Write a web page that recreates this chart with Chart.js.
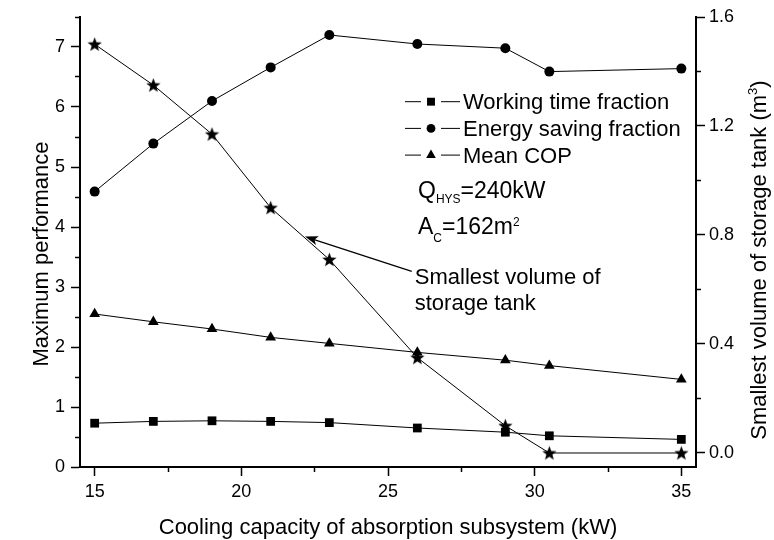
<!DOCTYPE html>
<html>
<head>
<meta charset="utf-8">
<script src="https://cdn.jsdelivr.net/npm/chart.js@4/dist/chart.umd.min.js"></script>
<style>
  html, body { margin: 0; padding: 0; background: #fff; }
</style>
</head>
<body>
<canvas id="perf" width="774" height="540"></canvas>
<script>
// Data
const capacity = [15, 17, 19, 21, 23, 26, 29, 30.5, 35];
const workingTime = [0.73, 0.76, 0.77, 0.76, 0.74, 0.65, 0.58, 0.52, 0.46];
const energySaving = [4.59, 5.39, 6.10, 6.66, 7.20, 7.05, 6.98, 6.59, 6.64];
const meanCOP = [2.55, 2.42, 2.30, 2.16, 2.06, 1.91, 1.78, 1.69, 1.46];
const tankVolume = [1.50, 1.35, 1.17, 0.90, 0.71, 0.35, 0.10, 0.0, 0.0];

const seriesNames = ['Working time fraction', 'Energy saving fraction', 'Mean COP'];

const FONT = "'Liberation Sans', Arial, sans-serif";
Chart.defaults.font.family = FONT;
Chart.defaults.color = '#000';

// five-point star used as marker
function starImage(size) {
  const c = document.createElement('canvas');
  c.width = c.height = size;
  const g = c.getContext('2d');
  const ro = size / 2, ri = ro * 0.42;
  g.beginPath();
  for (let i = 0; i < 10; i++) {
    const r = i % 2 ? ri : ro;
    const a = -Math.PI / 2 + i * Math.PI / 5;
    g.lineTo(ro + r * Math.cos(a), ro + 0.6 + r * Math.sin(a));
  }
  g.closePath();
  g.fillStyle = '#000';
  g.fill();
  return c;
}
const star = starImage(15);

const points = ys => capacity.map((x, i) => ({x: x, y: ys[i]}));
const styles = [
  {pointStyle: 'rect', radius: 6.2},
  {pointStyle: 'circle', radius: 5},
  {pointStyle: 'triangle', radius: 6.2}
];

function series(label, ys, st, axis) {
  return {
    label: label,
    data: points(ys),
    yAxisID: axis,
    borderColor: '#000',
    backgroundColor: '#000',
    borderWidth: 1,
    pointStyle: st.pointStyle,
    pointRadius: st.radius,
    pointBorderWidth: 0,
    tension: 0
  };
}

// minor ticks: short dash starting at the axis line
// (left axis ticks are stroked from the outside in, so skip the outer part)
const minorDash = [4, 30];
const minorDashLeft = [0, 4, 10, 30];

// text with a lowered / raised small part, e.g. Q_HYS
function richText(ctx, parts, x, y) {
  for (const p of parts) {
    ctx.font = p.size + 'px ' + FONT;
    ctx.fillText(p.t, x, y + (p.dy || 0));
    x += ctx.measureText(p.t).width;
  }
}

// legend, notes, arrow and axis titles
const annotations = {
  id: 'annotations',
  afterDraw(chart) {
    const ctx = chart.ctx;
    const a = chart.chartArea;
    const x = chart.scales.x, y = chart.scales.y;
    ctx.save();
    ctx.fillStyle = '#000';
    ctx.strokeStyle = '#000';
    ctx.textBaseline = 'alphabetic';

    // legend
    ctx.lineWidth = 1;
    ctx.font = '22px ' + FONT;
    ctx.textAlign = 'left';
    for (let i = 0; i < 3; i++) {
      const cy = 101.7 + i * 26.7;
      ctx.beginPath();
      ctx.moveTo(405, cy); ctx.lineTo(421, cy);
      ctx.moveTo(441, cy); ctx.lineTo(460, cy);
      ctx.stroke();
      Chart.helpers.drawPoint(ctx, {pointStyle: styles[i].pointStyle, radius: styles[i].radius - 0.6, rotation: 0, borderWidth: 0}, 431, cy);
      ctx.fillText(seriesNames[i], 463, cy + 7.5);
    }

    // Q_HYS=240kW and A_C=162m^2
    richText(ctx, [{t: 'Q', size: 23}, {t: 'HYS', size: 12, dy: 5}, {t: '=240kW', size: 23}], 418, 198);
    richText(ctx, [{t: 'A', size: 23}, {t: 'C', size: 12, dy: 8}, {t: '=162m', size: 23}, {t: '2', size: 12, dy: -8}], 418, 233.5);

    // arrow to the tank volume curve
    const tx = x.getPixelForValue(25.81), ty = y.getPixelForValue(3.26);
    const hx = x.getPixelForValue(22.17), hy = y.getPixelForValue(3.84);
    const ang = Math.atan2(hy - ty, hx - tx);
    const c = Math.cos(ang), s = Math.sin(ang);
    ctx.lineWidth = 1.2;
    ctx.beginPath();
    ctx.moveTo(tx, ty);
    ctx.lineTo(hx - 8 * c, hy - 8 * s);
    ctx.stroke();
    ctx.beginPath();
    ctx.moveTo(hx, hy);
    ctx.lineTo(hx - 13 * c - 4.5 * s, hy - 13 * s + 4.5 * c);
    ctx.lineTo(hx - 10 * c, hy - 10 * s);
    ctx.lineTo(hx - 13 * c + 4.5 * s, hy - 13 * s - 4.5 * c);
    ctx.closePath();
    ctx.fill();
    ctx.font = '22px ' + FONT;
    ctx.fillText('Smallest volume of', tx + 3, ty + 12.5);
    ctx.fillText('storage tank', tx + 3, ty + 38.5);

    // axis titles
    ctx.textAlign = 'center';
    ctx.fillText('Cooling capacity of absorption subsystem (kW)', (a.left + a.right) / 2, 533.5);

    ctx.save();
    ctx.translate(47.5, 254);
    ctx.rotate(-Math.PI / 2);
    ctx.fillText('Maximum performance', 0, 0);
    ctx.restore();

    ctx.save();
    ctx.translate(766, 260);
    ctx.rotate(-Math.PI / 2);
    ctx.textAlign = 'left';
    const t1 = 'Smallest volume of storage tank (m';
    const w1 = ctx.measureText(t1).width;
    ctx.font = '13px ' + FONT;
    const w2 = ctx.measureText('3').width;
    ctx.font = '22px ' + FONT;
    const w3 = ctx.measureText(')').width;
    richText(ctx, [{t: t1, size: 22}, {t: '3', size: 13, dy: -9}, {t: ')', size: 22}], -(w1 + w2 + w3) / 2, 0);
    ctx.restore();

    ctx.restore();
  }
};

const config = {
  type: 'line',
  data: {
    datasets: [
      series(seriesNames[0], workingTime, styles[0], 'y'),
      series(seriesNames[1], energySaving, styles[1], 'y'),
      series(seriesNames[2], meanCOP, styles[2], 'y'),
      {
        label: 'Smallest volume of storage tank',
        data: points(tankVolume),
        yAxisID: 'y1',
        borderColor: '#000',
        backgroundColor: '#000',
        borderWidth: 1,
        pointStyle: star,
        tension: 0
      }
    ]
  },
  options: {
    responsive: false,
    animation: false,
    layout: {padding: {top: 17, left: 0, right: 0, bottom: 0}},
    plugins: {
      legend: {display: false},
      tooltip: {enabled: false}
    },
    scales: {
      x: {
        type: 'linear',
        min: 14.5,
        max: 35.5,
        afterFit: s => { s.height = 73; },
        border: {color: '#000', width: 2},
        grid: {
          drawOnChartArea: false,
          tickLength: 9,
          tickColor: '#000',
          tickWidth: 1.5,
          tickBorderDash: c => (c.tick && c.tick.value % 5 === 0) ? [] : minorDash
        },
        ticks: {
          stepSize: 2.5,
          includeBounds: false,
          autoSkip: false,
          maxRotation: 0,
          padding: 5,
          font: {size: 18},
          callback: v => v % 5 === 0 ? v : ''
        }
      },
      y: {
        position: 'left',
        min: 0,
        max: 7.5,
        afterFit: s => { s.width = 80; },
        border: {color: '#000', width: 2},
        grid: {
          drawOnChartArea: false,
          tickLength: 9,
          tickColor: '#000',
          tickWidth: 1.5,
          tickBorderDash: c => (c.tick && Number.isInteger(c.tick.value)) ? [] : minorDashLeft
        },
        ticks: {
          stepSize: 0.5,
          autoSkip: false,
          padding: 6,
          font: {size: 18},
          callback: v => Number.isInteger(v) ? v : ''
        }
      },
      y1: {
        position: 'right',
        min: -0.0514,
        max: 1.6,
        afterFit: s => { s.width = 78; },
        border: {color: '#000', width: 2},
        grid: {
          drawOnChartArea: false,
          tickLength: 9,
          tickColor: '#000',
          tickWidth: 1.5,
          tickBorderDash: c => {
            const q = c.tick ? c.tick.value / 0.4 : 0.5;
            return Math.abs(q - Math.round(q)) < 1e-6 ? [] : minorDash;
          }
        },
        ticks: {
          stepSize: 0.2,
          includeBounds: false,
          autoSkip: false,
          padding: 4,
          font: {size: 18},
          callback: v => {
            const q = v / 0.4;
            return Math.abs(q - Math.round(q)) < 1e-6 ? v.toFixed(1) : '';
          }
        }
      }
    }
  },
  plugins: [annotations]
};

// Create the chart
const ctx = document.getElementById('perf').getContext('2d');
const perfChart = new Chart(ctx, config);
</script>
</body>
</html>
